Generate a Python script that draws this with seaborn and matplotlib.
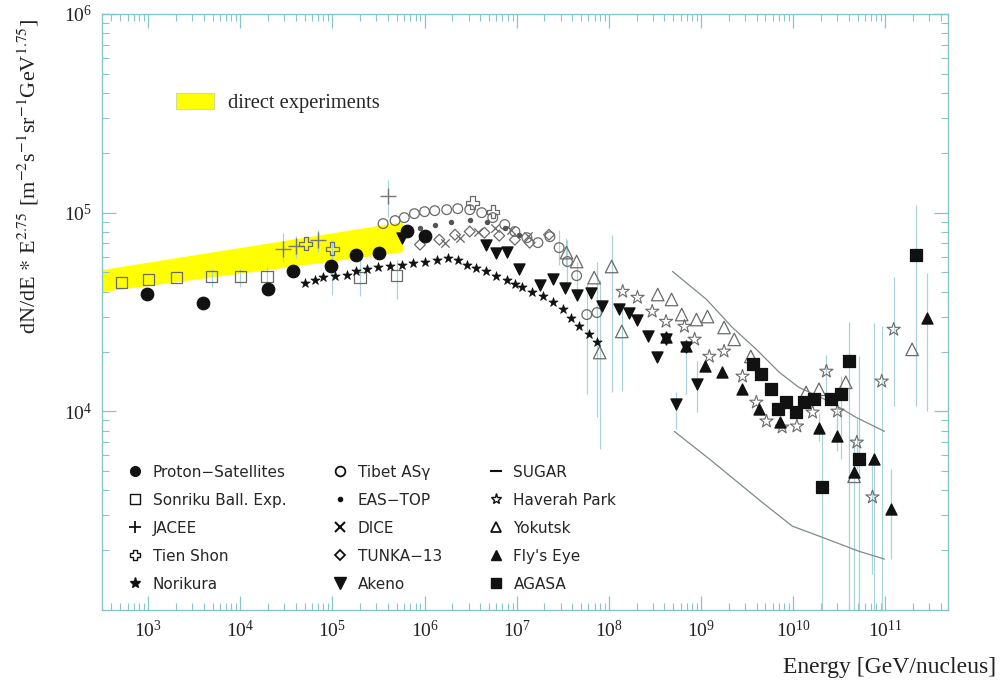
import numpy as np
import matplotlib
matplotlib.use("Agg")
import matplotlib.pyplot as plt
from matplotlib.lines import Line2D
from matplotlib.patches import Patch
import seaborn as sns

sns.set_theme(style="ticks")
plt.rcParams["font.family"] = ["Liberation Serif", "DejaVu Serif"]
plt.rcParams["mathtext.fontset"] = "stix"

nan = np.nan

# All values are log10(E / GeV) and log10(dN/dE * E^2.75)

# direct experiments band
band_lgE = [2.50, 5.76]
band_lo = [4.603, 4.804]
band_hi = [4.714, 4.955]

psat_lgE = [2.99, 3.60, 4.30, 4.57, 4.99, 5.26, 5.51, 5.81, 6.00]
psat_lgF = [4.593, 4.543, 4.618, 4.704, 4.729, 4.789, 4.799, 4.910, 4.884]

sonr_lgE = [2.71, 3.00, 3.31, 3.69, 4.00, 4.29, 5.30, 5.70]
sonr_lgF = [4.648, 4.663, 4.673, 4.678, 4.678, 4.678, 4.673, 4.683]
sonr_lo = [nan, nan, nan, 4.628, 4.628, 4.613, 4.578, 4.563]
sonr_hi = [nan, nan, nan, 4.714, 4.714, 4.724, 4.779, 4.764]

jacee_lgE = [4.46, 4.61, 4.84, 5.60]
jacee_lgF = [4.819, 4.834, 4.864, 5.085]
jacee_lo = [4.754, 4.774, 4.804, 4.980]
jacee_hi = [4.899, 4.884, 4.915, 5.166]

tien_lgE = [4.71, 5.00, 6.52, 6.74]
tien_lgF = [4.844, 4.819, 5.050, 5.005]
tien_lo = [nan, 4.588, nan, nan]
tien_hi = [nan, 4.864, nan, nan]

nori_lgE = [4.70, 4.81, 4.90, 5.03, 5.16, 5.26, 5.37, 5.49, 5.62, 5.75,
            5.87, 6.00, 6.13, 6.25, 6.36, 6.46, 6.56, 6.67, 6.78, 6.89,
            6.98, 7.06, 7.17, 7.28, 7.39, 7.50, 7.59, 7.68, 7.78, 7.87]
nori_lgF = [4.648, 4.663, 4.678, 4.683, 4.688, 4.704, 4.714, 4.724, 4.729, 4.739,
            4.749, 4.754, 4.764, 4.774, 4.764, 4.739, 4.719, 4.704, 4.683, 4.663,
            4.643, 4.628, 4.603, 4.578, 4.548, 4.513, 4.472, 4.427, 4.387, 4.347]

tibet_lgE = [5.55, 5.68, 5.78, 5.89, 6.00, 6.11, 6.24, 6.36, 6.49, 6.62, 6.74,
             6.87, 6.98, 7.11, 7.23, 7.36, 7.46, 7.55, 7.65, 7.76, 7.87]
tibet_lgF = [4.945, 4.960, 4.975, 4.995, 5.005, 5.010, 5.015, 5.020, 5.015, 5.000, 4.975,
             4.940, 4.905, 4.874, 4.849, 4.879, 4.824, 4.754, 4.683, 4.487, 4.497]
tibet_lo = [nan] * 16 + [4.739, 4.613, 4.563, 4.085, 3.970]
tibet_hi = [nan] * 16 + [4.915, 4.864, 4.754, 4.648, 4.754]

eastop_lgE = [5.95, 6.11, 6.29, 6.49, 6.68, 6.87, 7.03]
eastop_lgF = [4.925, 4.940, 4.955, 4.965, 4.955, 4.925, 4.889]

dice_lgE = [6.22, 6.38, 6.58, 6.76, 6.94, 7.12]
dice_lgF = [4.849, 4.874, 4.905, 4.925, 4.915, 4.884]

tunka_lgE = [5.95, 6.16, 6.33, 6.49, 6.65, 6.81, 6.98, 7.14, 7.35]
tunka_lgF = [4.839, 4.864, 4.889, 4.905, 4.899, 4.884, 4.864, 4.849, 4.889]

akeno_lgE = [5.76, 6.67, 6.78, 6.89, 7.03, 7.25, 7.39, 7.52, 7.65, 7.81,
             7.93, 8.11, 8.22, 8.30, 8.42, 8.52, 8.62, 8.84, 8.96, 8.73]
akeno_lgF = [4.874, 4.839, 4.799, 4.804, 4.714, 4.638, 4.668, 4.623, 4.588, 4.598,
             4.528, 4.513, 4.497, 4.462, 4.377, 4.271, 4.362, 4.322, 4.136, 4.035]
akeno_lo = [nan] * 17 + [4.085, 3.995, 3.910]
akeno_hi = [nan] * 17 + [4.362, 4.251, 4.095]

# SUGAR upper and lower limits
sugar_up_lgE = [8.69, 9.06, 9.34, 9.60, 9.85, 10.06, 10.39, 10.68, 10.99]
sugar_up_lgF = [4.704, 4.563, 4.422, 4.312, 4.196, 4.121, 4.050, 3.970, 3.899]
sugar_dn_lgE = [8.71, 9.12, 9.66, 9.99, 10.28, 10.71, 10.99]
sugar_dn_lgF = [3.899, 3.749, 3.543, 3.422, 3.372, 3.296, 3.256]

haver_lgE = [8.15, 8.31, 8.47, 8.62, 8.82, 8.93, 9.09, 9.25, 9.45, 9.60,
             9.71, 9.88, 10.04, 10.21, 10.36, 10.48, 10.69, 10.86, 10.96, 11.09]
haver_lgF = [4.603, 4.573, 4.503, 4.452, 4.427, 4.362, 4.276, 4.302, 4.176, 4.045,
             3.950, 3.920, 3.925, 3.995, 4.201, 4.000, 3.844, 3.568, 4.151, 4.412]
haver_lo = [nan] * 14 + [4.085, 3.859, 3.709, 3.181, 2.900, 4.025]
haver_hi = [nan] * 14 + [4.286, 4.085, 3.960, 3.759, 4.427, 4.678]

yoku_lgE = [7.54, 7.65, 7.84, 8.03, 8.14, 7.90, 8.53, 8.68, 8.79, 8.95,
            9.07, 9.25, 9.36, 9.54, 10.14, 10.28, 10.57, 10.66, 11.29]
yoku_lgF = [4.799, 4.754, 4.673, 4.729, 4.402, 4.296, 4.588, 4.563, 4.487, 4.462,
            4.477, 4.422, 4.362, 4.276, 4.095, 4.111, 4.146, 3.673, 4.312]
yoku_lo = [4.724, nan, nan, 4.095, 4.101, 3.809] + [nan] * 11 + [2.900, nan]
yoku_hi = [4.874, nan, nan, 4.889, 4.513, 4.663] + [nan] * 11 + [3.859, nan]

flys_lgE = [8.62, 8.84, 9.04, 9.23, 9.44, 9.63, 9.86, 10.28, 10.47, 10.66, 10.88, 11.06, 11.45]
flys_lgF = [4.372, 4.327, 4.226, 4.196, 4.111, 4.010, 3.945, 3.915, 3.874, 3.693, 3.759, 3.508, 4.472]
flys_lo = [nan] * 7 + [3.85, 3.80, nan, 2.900, 3.256, 4.000]
flys_hi = [nan] * 7 + [3.99, 3.96, nan, 4.447, 3.709, 4.698]

agasa_lgE = [9.56, 9.65, 9.76, 9.83, 9.92, 10.03, 10.12, 10.23, 10.41, 10.52,
             10.60, 10.31, 10.71, 11.33]
agasa_lgF = [4.236, 4.186, 4.111, 4.010, 4.045, 3.995, 4.045, 4.060, 4.060, 4.085,
             4.251, 3.618, 3.759, 4.789]
agasa_lo = [nan] * 9 + [3.759, 2.900, 2.900, 2.900, 4.025]
agasa_hi = [nan] * 9 + [4.176, 4.452, 3.910, 4.276, 5.040]

SPINE = "#86c6c8"
ERR = "#a9d3d6"
OPEN = "#6a6a6a"
BLACK = "#111111"
TXT = "#222222"

fig = plt.figure(figsize=(10.01, 6.93), dpi=100)
ax = fig.add_axes([0.1019, 0.1198, 0.8452, 0.8600])
ax.set_xscale("log")
ax.set_yscale("log")
ax.set_xlim(10 ** 2.5, 10 ** 11.68)
ax.set_ylim(1e3, 1e6)


def p10(v):
    return 10.0 ** np.asarray(v, dtype=float)


ax.fill_between(p10(band_lgE), p10(band_lo), p10(band_hi),
                color="#ffff00", lw=0, zorder=0.5)


def series(lgE, lgF, marker, size, face, edge, lw=0.9, lo=None, hi=None, z=3):
    E, F = p10(lgE), p10(lgF)
    if lo is not None:
        lo_v, hi_v = p10(lo), p10(hi)
        m = ~np.isnan(lo_v)
        ax.vlines(E[m], lo_v[m], hi_v[m], color=ERR, lw=0.9, zorder=1)
    kw = dict(x=E, y=F, ax=ax, marker=marker, s=size ** 2, linewidth=lw,
              zorder=z, legend=False)
    if marker in ("+", "x", "_"):
        sns.scatterplot(color=edge, **kw)
    else:
        sns.scatterplot(facecolor=face, edgecolor=edge, **kw)


ax.plot(p10(sugar_up_lgE), p10(sugar_up_lgF), color="#7d8a8a", lw=0.9, zorder=2)
ax.plot(p10(sugar_dn_lgE), p10(sugar_dn_lgF), color="#7d8a8a", lw=0.9, zorder=2)

series(sonr_lgE, sonr_lgF, "s", 8, "none", OPEN, lo=sonr_lo, hi=sonr_hi)
series(jacee_lgE, jacee_lgF, "+", 11, None, "#777777", lw=1.0, lo=jacee_lo, hi=jacee_hi)
series(tien_lgE, tien_lgF, "P", 9, "none", OPEN, lo=tien_lo, hi=tien_hi)
series(tunka_lgE, tunka_lgF, "D", 5.5, "none", OPEN)
series(dice_lgE, dice_lgF, "x", 6, None, "#666666")
series(tibet_lgE, tibet_lgF, "o", 7, "none", OPEN, lo=tibet_lo, hi=tibet_hi)
series(eastop_lgE, eastop_lgF, "o", 3, "#555555", "#555555")
series(yoku_lgE, yoku_lgF, "^", 9, "none", OPEN, lo=yoku_lo, hi=yoku_hi)
series(haver_lgE, haver_lgF, "*", 10, "none", OPEN, lw=0.8, lo=haver_lo, hi=haver_hi)
series(nori_lgE, nori_lgF, "*", 7, BLACK, BLACK, lw=0.5, z=4)
series(psat_lgE, psat_lgF, "o", 9, BLACK, BLACK, z=4)
series(akeno_lgE, akeno_lgF, "v", 8, BLACK, BLACK, z=4, lo=akeno_lo, hi=akeno_hi)
series(flys_lgE, flys_lgF, "^", 8, BLACK, BLACK, z=4, lo=flys_lo, hi=flys_hi)
series(agasa_lgE, agasa_lgF, "s", 8.5, BLACK, BLACK, z=4, lo=agasa_lo, hi=agasa_hi)

# axes styling
ax.set_xticks([10.0 ** k for k in range(3, 12)])
ax.set_yticks([1e4, 1e5, 1e6])
for s in ax.spines.values():
    s.set_color(SPINE)
    s.set_linewidth(1.0)
ax.tick_params(which="both", direction="in", top=True, right=True,
               color=SPINE, labelcolor=TXT, labelsize=14, pad=7)
ax.tick_params(which="major", length=10, width=0.9)
ax.tick_params(which="minor", length=5, width=0.8)
ax.grid(False)

ax.set_ylabel(r"dN/dE $*$ E$^{2.75}$ [m$^{-2}$s$^{-1}$sr$^{-1}$GeV$^{1.75}$]",
              fontsize=16, color=TXT)
ax.yaxis.set_label_coords(-0.072, 0.727)
fig.text(0.995, 1 - 667 / 693, "Energy [GeV/nucleus]", ha="right", va="center",
         fontsize=17, color=TXT)

# legends
band_leg = ax.legend(handles=[Patch(facecolor="#ffff00", edgecolor="#c8d8a0", lw=0.6)],
                     labels=["direct experiments"], loc="upper left",
                     bbox_to_anchor=(0.0875, 0.868), borderaxespad=0, borderpad=0,
                     frameon=False, handlelength=1.85, handleheight=0.87,
                     handletextpad=0.7,
                     prop={"family": ["Liberation Serif"], "size": 14.8})
ax.add_artist(band_leg)


def mk(marker, face, edge, size=7, mew=1.0):
    return Line2D([], [], marker=marker, linestyle="none", markersize=size,
                  markerfacecolor=face, markeredgecolor=edge, markeredgewidth=mew,
                  color=edge)


leg_handles = [
    mk("o", BLACK, BLACK, 7),
    mk("s", "none", BLACK, 7),
    mk("+", BLACK, BLACK, 8, 1.3),
    mk("P", "none", BLACK, 7),
    mk("*", BLACK, BLACK, 8),
    mk("o", "none", BLACK, 7, 1.3),
    mk("o", BLACK, BLACK, 3),
    mk("x", BLACK, BLACK, 7, 1.5),
    mk("D", "none", BLACK, 5, 1.3),
    mk("v", BLACK, BLACK, 8),
    mk("_", BLACK, BLACK, 8, 1.5),
    mk("*", "none", BLACK, 8),
    mk("^", "none", BLACK, 7, 1.3),
    mk("^", BLACK, BLACK, 7),
    mk("s", BLACK, BLACK, 7),
]
leg_labels = [
    "Proton\u2212Satellites", "Sonriku Ball. Exp.", "JACEE", "Tien Shon", "Norikura",
    "Tibet AS\u03b3", "EAS\u2212TOP", "DICE", "TUNKA\u221213", "Akeno",
    "SUGAR", "Haverah Park", "Yokutsk", "Fly's Eye", "AGASA",
]
ax.legend(handles=leg_handles, labels=leg_labels, ncol=3, loc="lower left",
          bbox_to_anchor=(0.030, 0.031), borderaxespad=0, borderpad=0,
          frameon=False, handlelength=1.0, handletextpad=0.67, columnspacing=3.0,
          labelspacing=0.85,
          prop={"family": ["DejaVu Sans"], "size": 11})

fig.savefig("out.png", dpi=100, facecolor="white")
